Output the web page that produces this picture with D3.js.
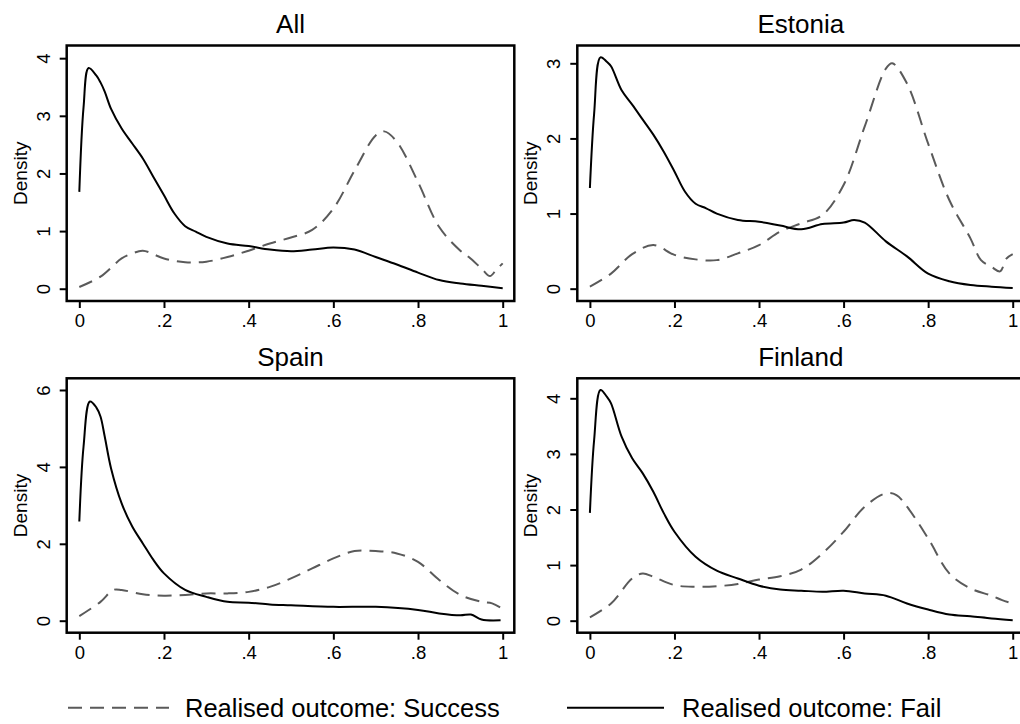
<!DOCTYPE html>
<html>
<head>
<meta charset="utf-8">
<script src="https://cdn.jsdelivr.net/npm/d3@7"></script>
<style>
  body { margin: 0; background: #fff; }
  text { font-family: "Liberation Sans", Arial, sans-serif; fill: #000; }
</style>
</head>
<body>
<div id="chart"></div>
<script>
// x ticks shared by all panels
const xTicks = [0, 0.2, 0.4, 0.6, 0.8, 1];
const xTickLabels = ["0", ".2", ".4", ".6", ".8", "1"];
const legendLabels = ["Realised outcome: Success", "Realised outcome: Fail"];

// density curves, [share, density]
const allFail = [[0,1.68],[0.01,3.15],[0.022,3.83],[0.04,3.70],[0.05,3.58],[0.06,3.42],[0.075,3.12],[0.1,2.78],[0.125,2.52],[0.15,2.26],[0.175,1.94],[0.2,1.62],[0.225,1.30],[0.25,1.085],[0.275,0.99],[0.3,0.90],[0.35,0.785],[0.4,0.74],[0.45,0.68],[0.5,0.65],[0.55,0.68],[0.6,0.716],[0.65,0.68],[0.7,0.55],[0.75,0.42],[0.8,0.28],[0.85,0.15],[0.9,0.09],[0.95,0.05],[1,0.01]];
const allSuccess = [[0,0.03],[0.05,0.21],[0.1,0.525],[0.125,0.61],[0.15,0.66],[0.2,0.525],[0.25,0.46],[0.3,0.47],[0.35,0.55],[0.4,0.66],[0.45,0.785],[0.5,0.89],[0.55,1.02],[0.6,1.39],[0.65,2.05],[0.7,2.66],[0.72,2.73],[0.75,2.55],[0.8,1.85],[0.85,1.07],[0.9,0.66],[0.92,0.55],[0.95,0.35],[0.97,0.22],[0.985,0.33],[1,0.44]];

const estFail = [[0,1.34],[0.01,2.33],[0.025,3.08],[0.04,3.02],[0.05,2.96],[0.075,2.64],[0.1,2.45],[0.125,2.25],[0.15,2.05],[0.175,1.82],[0.2,1.56],[0.225,1.29],[0.25,1.13],[0.275,1.07],[0.3,1.00],[0.35,0.915],[0.4,0.89],[0.45,0.84],[0.5,0.79],[0.55,0.86],[0.6,0.88],[0.625,0.915],[0.65,0.88],[0.7,0.63],[0.75,0.43],[0.8,0.2],[0.85,0.1],[0.9,0.05],[0.95,0.027],[1,0.01]];
const estSuccess = [[0,0.027],[0.05,0.20],[0.1,0.46],[0.15,0.58],[0.2,0.45],[0.25,0.39],[0.3,0.38],[0.35,0.47],[0.4,0.58],[0.45,0.76],[0.5,0.87],[0.55,0.98],[0.6,1.38],[0.65,2.16],[0.7,2.93],[0.715,3.0],[0.75,2.73],[0.8,1.93],[0.85,1.18],[0.9,0.67],[0.925,0.38],[0.95,0.29],[0.97,0.23],[0.985,0.40],[1,0.46]];

const spainFail = [[0,2.58],[0.01,4.53],[0.025,5.70],[0.04,5.55],[0.05,5.31],[0.06,4.79],[0.075,3.96],[0.1,3.05],[0.125,2.45],[0.15,2.01],[0.175,1.58],[0.2,1.23],[0.25,0.80],[0.3,0.62],[0.35,0.49],[0.4,0.47],[0.45,0.42],[0.5,0.40],[0.6,0.36],[0.7,0.36],[0.8,0.28],[0.85,0.19],[0.9,0.14],[0.925,0.16],[0.95,0.03],[0.995,0.01]];
const spainSuccess = [[0,0.12],[0.05,0.49],[0.08,0.80],[0.1,0.80],[0.15,0.685],[0.2,0.65],[0.25,0.67],[0.3,0.71],[0.35,0.71],[0.4,0.75],[0.45,0.88],[0.5,1.10],[0.55,1.36],[0.6,1.62],[0.65,1.81],[0.7,1.81],[0.75,1.75],[0.8,1.53],[0.85,1.06],[0.9,0.67],[0.95,0.49],[0.975,0.45],[0.995,0.34]];

const finFail = [[0,1.94],[0.01,3.25],[0.025,4.15],[0.04,4.03],[0.05,3.91],[0.075,3.31],[0.1,2.92],[0.125,2.65],[0.15,2.32],[0.175,1.93],[0.2,1.60],[0.25,1.15],[0.3,0.90],[0.35,0.76],[0.4,0.63],[0.45,0.56],[0.5,0.54],[0.55,0.52],[0.6,0.54],[0.65,0.49],[0.7,0.45],[0.75,0.31],[0.8,0.20],[0.85,0.11],[0.9,0.08],[0.95,0.04],[1,0.01]];
const finSuccess = [[0,0.06],[0.05,0.31],[0.1,0.76],[0.125,0.85],[0.15,0.79],[0.2,0.64],[0.25,0.61],[0.3,0.62],[0.35,0.66],[0.4,0.74],[0.45,0.80],[0.5,0.92],[0.55,1.21],[0.6,1.60],[0.65,2.05],[0.7,2.29],[0.725,2.26],[0.75,2.05],[0.8,1.48],[0.85,0.85],[0.9,0.58],[0.95,0.45],[0.975,0.37],[1,0.31]];

const panels = [
  {title: "All",     fail: allFail,   success: allSuccess,   yTicks: [0,1,2,3,4], yDom: [-0.213, 4.22],  box: [66.7, 45.5, 514.3, 301]},
  {title: "Estonia", fail: estFail,   success: estSuccess,   yTicks: [0,1,2,3],   yDom: [-0.164, 3.237], box: [577.3, 45.5, 1024.3, 301]},
  {title: "Spain",   fail: spainFail, success: spainSuccess, yTicks: [0,2,4,6],   yDom: [-0.312, 6.304], box: [66.7, 378.3, 514.3, 632.7]},
  {title: "Finland", fail: finFail,   success: finSuccess,   yTicks: [0,1,2,3,4], yDom: [-0.216, 4.36],  box: [577.3, 378.3, 1024.3, 632.7]}
];

const W = 1020, H = 724;
const dash = "14,8";
const grey = "#5a5a5a";

const svg = d3.select("#chart").append("svg")
  .attr("width", W).attr("height", H);
svg.append("rect").attr("width", W).attr("height", H).attr("fill", "#fff");

panels.forEach(p => {
  const [l, t, r, b] = p.box;
  const x = d3.scaleLinear().domain([-0.0298, 1.0274]).range([l, r]);
  const y = d3.scaleLinear().domain(p.yDom).range([b, t]);
  const g = svg.append("g");

  const line = d3.line().x(d => x(d[0])).y(d => y(d[1])).curve(d3.curveCatmullRom.alpha(0.5));
  g.append("path").attr("d", line(p.success))
    .attr("fill", "none").attr("stroke", grey).attr("stroke-width", 2)
    .attr("stroke-dasharray", dash);
  g.append("path").attr("d", line(p.fail))
    .attr("fill", "none").attr("stroke", "#000").attr("stroke-width", 2);

  // frame
  g.append("rect").attr("x", l).attr("y", t).attr("width", r - l).attr("height", b - t)
    .attr("fill", "none").attr("stroke", "#000").attr("stroke-width", 2.5);

  // x axis
  const xa = g.append("g").attr("transform", `translate(0,${b})`)
    .call(d3.axisBottom(x).tickValues(xTicks).tickSize(7).tickPadding(6)
      .tickFormat((d, i) => xTickLabels[i]));
  xa.select(".domain").remove();
  xa.selectAll("line").attr("stroke", "#000").attr("stroke-width", 2);
  xa.selectAll("text").style("font-size", "18.5px").style("font-family", "Liberation Sans, Arial, sans-serif");

  // y axis, labels turned on their side
  const ya = g.append("g").attr("transform", `translate(${l},0)`)
    .call(d3.axisLeft(y).tickValues(p.yTicks).tickSize(7).tickFormat(d3.format("d")));
  ya.select(".domain").remove();
  ya.selectAll("line").attr("stroke", "#000").attr("stroke-width", 2);
  ya.selectAll("text")
    .attr("x", null).attr("dy", null)
    .attr("text-anchor", "middle")
    .attr("transform", "translate(-17,0) rotate(-90)")
    .attr("y", 0)
    .style("font-size", "18.5px").style("font-family", "Liberation Sans, Arial, sans-serif");

  g.append("text")
    .attr("transform", `translate(${l - 40},${(t + b) / 2}) rotate(-90)`)
    .attr("text-anchor", "middle")
    .style("font-size", "19px")
    .text("Density");

  g.append("text")
    .attr("x", (l + r) / 2).attr("y", t - 12.5)
    .attr("text-anchor", "middle")
    .style("font-size", "26px")
    .text(p.title);
});

// legend
const leg = svg.append("g");
leg.append("line").attr("x1", 68).attr("x2", 169).attr("y1", 707.7).attr("y2", 707.7)
  .attr("stroke", grey).attr("stroke-width", 2).attr("stroke-dasharray", dash);
leg.append("text").attr("x", 185).attr("y", 716.5).style("font-size", "25.5px").text(legendLabels[0]);
leg.append("line").attr("x1", 567).attr("x2", 664).attr("y1", 707.7).attr("y2", 707.7)
  .attr("stroke", "#000").attr("stroke-width", 2);
leg.append("text").attr("x", 682).attr("y", 716.5).style("font-size", "25.5px").text(legendLabels[1]);
</script>
</body>
</html>
